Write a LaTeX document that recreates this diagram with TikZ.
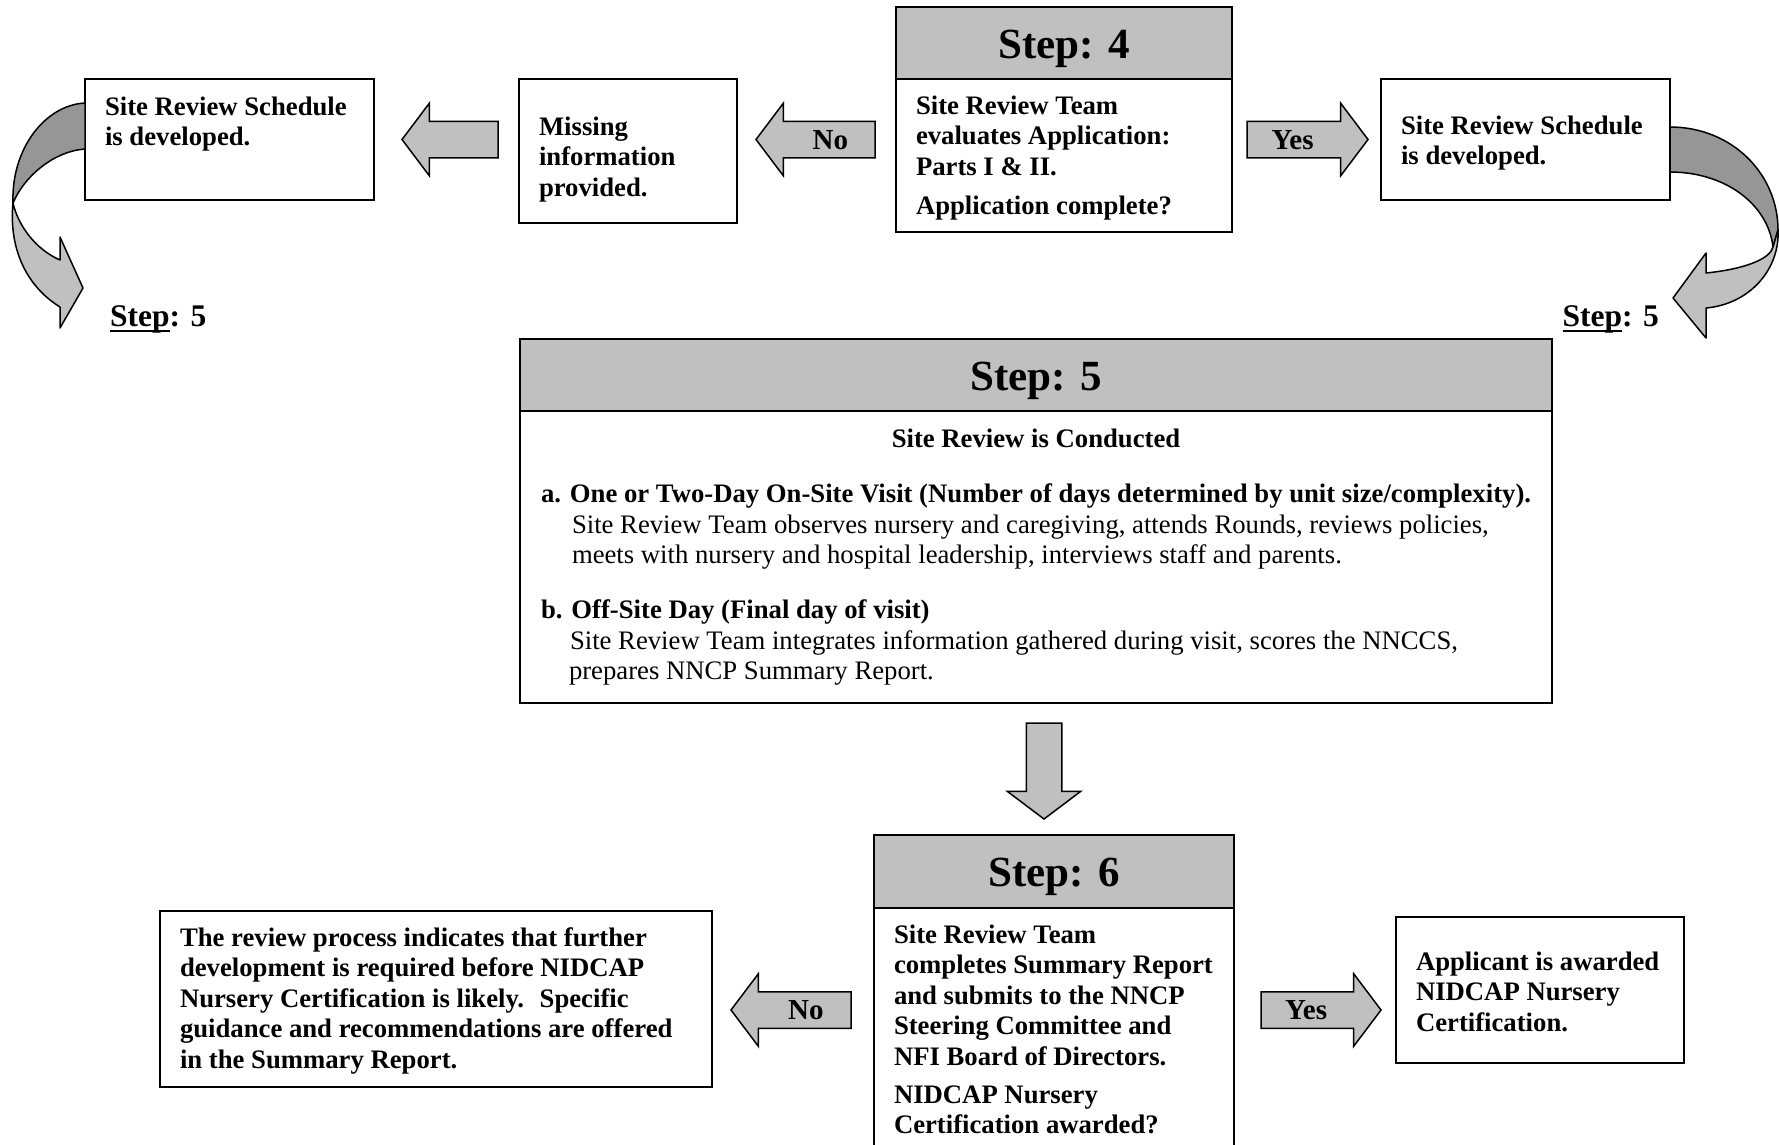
\documentclass[tikz,border=0pt]{standalone}
\usepackage{fontspec}
\setmainfont{Liberation Serif}
\usepackage{xcolor}
\usepackage{tikz}
\usetikzlibrary{positioning,shapes.arrows,calc}

\definecolor{hdrgray}{RGB}{192,192,192}
\definecolor{foldgray}{RGB}{150,150,150}

\newcommand{\stepul}[1]{\setbox0\hbox{#1}\rlap{\rule[-6pt]{\wd0}{2.5pt}}\box0}

\tikzset{
  panel/.style={draw, line width=2pt, anchor=north west, inner sep=0pt, outer sep=0pt,
    text width=#1, align=flush left,
    font=\fontsize{26.7}{30.6}\selectfont\bfseries,
    execute at begin node={\leftskip=20pt\relax}},
  stephead/.style={draw, fill=hdrgray, line width=2pt, anchor=north west, inner sep=0pt,
    outer sep=0pt, minimum width=#1, minimum height=72pt, text height=30pt, text depth=0pt,
    font=\fontsize{43}{43}\selectfont\bfseries},
  blockarrow/.style={single arrow, draw, fill=hdrgray, line width=1.5pt, outer sep=0pt,
    inner sep=0pt, minimum height=#1, single arrow head extend=18pt,
    single arrow tip angle=106, text height=27pt, text depth=8pt, anchor=tail,
    font=\fontsize{29}{29}\selectfont\bfseries},
  steplabel/.style={font=\fontsize{31.5}{31.5}\selectfont\bfseries, inner sep=0pt},
  foldpart/.style={draw, line width=1.5pt, line join=round}
}

\begin{document}
\begin{tikzpicture}[x=1pt,y=-1pt]
\useasboundingbox (0,0) rectangle (1779,1144);

% top row
\node[panel=289pt, text height=36pt, text depth=85pt] (sched1) at (85,79)
  {Site Review Schedule\\is developed.};
\node[panel=218pt, text height=56pt, text depth=88pt] (missing) at (519,79)
  {Missing\\information\\provided.};
\node[stephead=336pt] (step4) at (896,7) {Step: 4};
\node[panel=336pt, text height=35pt, text depth=118pt] (step4body) at (step4.south west)
  {Site Review Team\\evaluates Application:\\Parts I \& II.\\[9pt]Application complete?};
\node[panel=289pt, text height=55pt, text depth=66pt] (sched2) at (1381,79)
  {Site Review Schedule\\is developed.};

\node[blockarrow=96pt, shape border rotate=180, xshift=-21pt] (back1) at (missing.west |- sched1.east) {};
\node[blockarrow=119pt, shape border rotate=180, xshift=-21pt] (no1) at (step4body.west |- sched1.east) {\hspace*{16pt}No};
\node[blockarrow=121pt, xshift=15pt] (yes1) at (step4body.east |- sched1.east) {Yes\hspace*{16pt}};

% curved arrows to step 5
\begin{scope}[shift={(sched1.north west)}]
  \filldraw[foldpart, fill=foldgray] (0,24) .. controls (-40,26) and (-74,70) .. (-72,124)
    .. controls (-60,96) and (-30,72) .. (0,70) -- cycle;
  \filldraw[foldpart, fill=hdrgray] (-72,124) .. controls (-76,165) and (-62,205) .. (-25,228)
    -- (-25,249) -- (-2,209) -- (-25,158) -- (-25,181)
    .. controls (-50,170) and (-67,146) .. (-72,124) -- cycle;
\end{scope}
\begin{scope}[shift={(sched2.north east)}]
  \filldraw[foldpart, fill=foldgray] (0,48) .. controls (62,48) and (108,95) .. (108,151)
    -- (103,168) .. controls (98,125) and (55,93) .. (0,93) -- cycle;
  \filldraw[foldpart, fill=hdrgray] (108,151) .. controls (110,190) and (80,225) .. (36,229)
    -- (36,259) -- (3,219) -- (36,174) -- (36,194)
    .. controls (75,190) and (100,180) .. (103,168) -- cycle;
\end{scope}
\node[steplabel, anchor=base west] (goto5l) at (110,326) {\stepul{Step}: 5};
\node[steplabel, anchor=base east] (goto5r) at (1659,326) {\stepul{Step}: 5};

% step 5
\node[stephead=1032pt] (step5) at (520,339) {Step: 5};
\node[panel=1032pt, text height=36pt, text depth=256pt] (step5body) at (step5.south west)
  {{\centering Site Review is Conducted\par}\vspace{25pt}
   \leftskip=21pt\relax
   a. One or Two-Day On-Site Visit (Number of days determined by unit size/complexity).\\
   {\mdseries\hspace*{31pt}Site Review Team observes nursery and caregiving, attends Rounds, reviews policies,}\\
   {\mdseries\hspace*{31pt}meets with nursery and hospital leadership, interviews staff and parents.}\\[24pt]
   b. Off-Site Day (Final day of visit)\\
   {\mdseries\hspace*{29pt}Site Review Team integrates information gathered during visit, scores the NNCCS,}\\
   {\mdseries\hspace*{29pt}prepares NNCP Summary Report.}};

% step 6
\node[stephead=360pt, minimum height=73pt] (step6) at (874,835) {Step: 6};
\node[panel=360pt, text height=35pt, text depth=207pt] (step6body) at (step6.south west)
  {Site Review Team\\completes Summary Report\\and submits to the NNCP\\Steering Committee and\\NFI Board of Directors.\\[7pt]NIDCAP Nursery\\Certification awarded?};
\node[blockarrow=96pt, shape border rotate=270, inner xsep=17pt, single arrow head extend=19pt,
  xshift=8pt, yshift=-20pt] (down1) at (step5body.south) {};

\node[panel=552pt, text height=35pt, text depth=141pt] (further) at (160,911)
  {The review process indicates that further\\development is required before NIDCAP\\Nursery Certification is likely.~ Specific\\guidance and recommendations are offered\\in the Summary Report.};
\node[panel=288pt, text height=53pt, text depth=93pt] (awarded) at (1396,917)
  {Applicant is awarded\\NIDCAP Nursery\\Certification.};

\coordinate (midrow) at (0,1010);
\node[blockarrow=120pt, shape border rotate=180, xshift=-23pt] (no2) at (step6body.west |- midrow) {\hspace*{16pt}No};
\node[blockarrow=120pt, xshift=27pt] (yes2) at (step6body.east |- midrow) {Yes\hspace*{16pt}};
\end{tikzpicture}
\end{document}
